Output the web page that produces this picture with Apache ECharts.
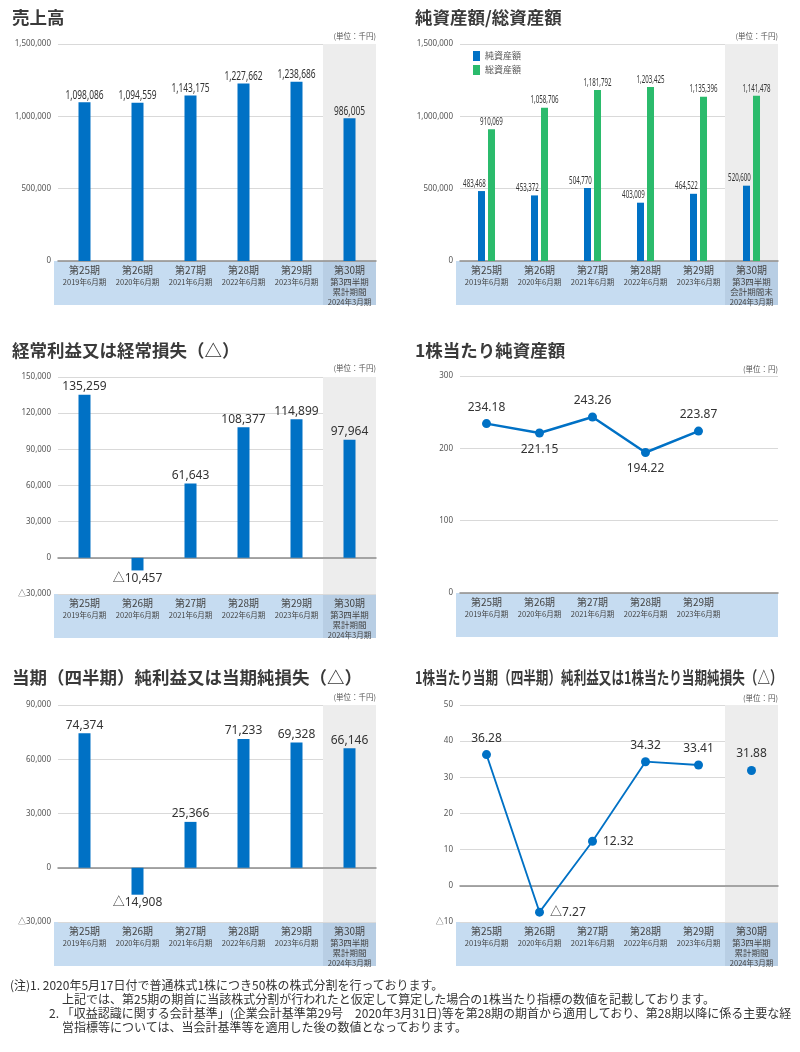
<!DOCTYPE html>
<html><head><meta charset="utf-8">
<script src="https://cdn.jsdelivr.net/npm/echarts@6/dist/echarts.min.js"></script>
<style>
html,body{margin:0;padding:0;background:#fff;}
#chart{position:absolute;left:0;top:0;width:800px;height:1052px;}
.note{position:absolute;font-family:"Noto Sans CJK JP",sans-serif;font-size:12px;color:#333;white-space:nowrap;line-height:14px;}
</style></head>
<body>
<div id="chart"></div>
<div class="note" style="left:10px;top:978px;">(注)1. 2020年5月17日付で普通株式1株につき50株の株式分割を行っております。</div>
<div class="note" style="left:62px;top:992px;">上記では、第25期の期首に当該株式分割が行われたと仮定して算定した場合の1株当たり指標の数値を記載しております。</div>
<div class="note" style="left:49px;top:1006px;">2. 「収益認識に関する会計基準」(企業会計基準第29号　2020年3月31日)等を第28期の期首から適用しており、第28期以降に係る主要な経</div>
<div class="note" style="left:62px;top:1020px;">営指標等については、当会計基準等を適用した後の数値となっております。</div>
<script>
// ---- data ----
const categories = ['第25期','第26期','第27期','第28期','第29期','第30期'];
const periods = ['2019年6月期','2020年6月期','2021年6月期','2022年6月期','2023年6月期'];
const q3Cumulative = ['第3四半期','累計期間','2024年3月期'];
const q3End = ['第3四半期','会計期間末','2024年3月期'];
const sales = [1098086,1094559,1143175,1227662,1238686,986005];
const netAssets = [483468,453372,504770,403009,464522,520600];
const totalAssets = [910069,1058706,1181792,1203425,1135396,1141478];
const ordinaryIncome = [135259,-10457,61643,108377,114899,97964];
const bps = [234.18,221.15,243.26,194.22,223.87];
const netIncome = [74374,-14908,25366,71233,69328,66146];
const eps = [36.28,-7.27,12.32,34.32,33.41];
const epsQ3 = 31.88;
const titles = ['売上高','純資産額/総資産額','経常利益又は経常損失（△）','1株当たり純資産額','当期（四半期）純利益又は当期純損失（△）','1株当たり当期（四半期）純利益又は1株当たり当期純損失（△）'];
const units = ['(単位：千円)','(単位：千円)','(単位：千円)','(単位：円)','(単位：千円)','(単位：円)'];
const yMin = [0,0,-30000,0,-30000,-10];
const yMax = [1500000,1500000,150000,300,90000,50];
const yInterval = [500000,500000,30000,100,30000,10];

// ---- layout / style ----
const L = [
  {left:58, top:44, width:318, height:217},
  {left:460, top:44, width:318, height:217},
  {left:58, top:377, width:318, height:217},
  {left:460, top:376, width:318, height:217},
  {left:58, top:705, width:318, height:217},
  {left:460, top:705, width:318, height:217}
];
const BLUE = '#0071c5', GREEN = '#2bbb6c';
const SANS = '"Noto Sans","Noto Sans CJK JP",sans-serif';
const CJK = '"Noto Sans CJK JP",sans-serif';
const fmtNum = v => (v < 0 ? '△' : '') + Math.abs(v).toLocaleString('en-US');
const fmtDec = v => (v < 0 ? '△' : '') + Math.abs(v).toFixed(2);

function catFormatter(extra, hideLast) {
  return function (val, idx) {
    if (idx < 5) return '{a|' + val + '}\n{b|' + periods[idx] + '}';
    if (hideLast) return '';
    return '{a|' + val + '}\n{c|' + extra[0] + '}\n{c|' + extra[1] + '}\n{b|' + extra[2] + '}';
  };
}
const rich = {
  a: {fontSize: 10, lineHeight: 14, color: '#444', fontFamily: CJK},
  b: {fontSize: 7.5, lineHeight: 10, color: '#444', fontFamily: CJK},
  c: {fontSize: 8.5, lineHeight: 10, color: '#444', fontFamily: CJK}
};
const grayArea = ['rgba(0,0,0,0)','rgba(0,0,0,0)','rgba(0,0,0,0)','rgba(0,0,0,0)','rgba(0,0,0,0)','#ededed'];

const grids = L.map(g => Object.assign({containLabel: false}, g));
const xAxes = L.map((g, i) => ({
  type: 'category', gridIndex: i, data: categories,
  axisLine: {onZero: true, lineStyle: {color: '#8c8c8c', width: 1.5}},
  axisTick: {show: false},
  axisLabel: {interval: 0, margin: 2, formatter: catFormatter(i === 1 ? q3End : q3Cumulative, i === 3), rich: rich, verticalAlign: 'top'},
  splitArea: {show: i !== 3, areaStyle: {color: grayArea}}
}));
const yAxes = L.map((g, i) => ({
  type: 'value', gridIndex: i, min: yMin[i], max: yMax[i], interval: yInterval[i],
  axisLine: {show: false}, axisTick: {show: false},
  axisLabel: {color: '#555', fontSize: 8, fontFamily: SANS, margin: 7, formatter: v => fmtNum(v)},
  splitLine: {lineStyle: {color: '#d9d9d9', width: 1.2}}
}));

function barData(arr) {
  return arr.map(v => ({value: v, label: {position: v < 0 ? 'bottom' : 'top'}}));
}
// condensed value labels drawn through the axis scales (custom series)
function narrowLabels(arr, axisIdx, dx, dy, fontSize, sx) {
  return {
    type: 'custom', xAxisIndex: axisIdx, yAxisIndex: axisIdx, z: 5, silent: true,
    data: arr.map((v, k) => [k, v]),
    renderItem: function (params, api) {
      const v = api.value(1);
      const p = api.coord([api.value(0), v]);
      return {type: 'text', x: p[0] + dx, y: p[1] + dy, scaleX: sx,
        style: {text: fmtNum(v), font: fontSize + 'px "Noto Sans", sans-serif', fill: '#333',
          textAlign: 'center', textVerticalAlign: 'bottom'}};
    }
  };
}

const series = [
  {type: 'bar', xAxisIndex: 0, yAxisIndex: 0, data: sales, barWidth: 12, itemStyle: {color: BLUE}},
  narrowLabels(sales, 0, 0, -1, 12, 0.7),
  {type: 'bar', name: '純資産額', xAxisIndex: 1, yAxisIndex: 1, data: netAssets, barWidth: 7, barGap: '43%', itemStyle: {color: BLUE}},
  {type: 'bar', name: '総資産額', xAxisIndex: 1, yAxisIndex: 1, data: totalAssets, barWidth: 7, barGap: '43%', itemStyle: {color: GREEN}},
  narrowLabels(netAssets, 1, -12, -2, 11, 0.56),
  narrowLabels(totalAssets, 1, 5, -2, 11, 0.56),
  {type: 'bar', xAxisIndex: 2, yAxisIndex: 2, data: barData(ordinaryIncome), barWidth: 12, itemStyle: {color: BLUE},
   label: {show: true, distance: 2, color: '#333', fontSize: 12, fontFamily: SANS, formatter: p => fmtNum(p.value)}},
  {type: 'line', xAxisIndex: 3, yAxisIndex: 3,
   data: bps.map((v, k) => ({value: v, label: {position: ['top','bottom','top','bottom','top'][k]}})),
   symbol: 'circle', symbolSize: 9, lineStyle: {color: BLUE, width: 2.5}, itemStyle: {color: BLUE},
   label: {show: true, distance: 6, color: '#333', fontSize: 12, fontFamily: SANS, formatter: p => fmtDec(p.value)}},
  {type: 'bar', xAxisIndex: 4, yAxisIndex: 4, data: barData(netIncome), barWidth: 12, itemStyle: {color: BLUE},
   label: {show: true, distance: 2, color: '#333', fontSize: 12, fontFamily: SANS, formatter: p => fmtNum(p.value)}},
  {type: 'line', xAxisIndex: 5, yAxisIndex: 5,
   data: eps.map((v, k) => ({value: v, label: {position: ['top','right','right','top','top'][k]}})),
   symbol: 'circle', symbolSize: 9, lineStyle: {color: BLUE, width: 1.8}, itemStyle: {color: BLUE},
   label: {show: true, distance: 6, color: '#333', fontSize: 12, fontFamily: SANS, formatter: p => fmtDec(p.value)}},
  {type: 'line', xAxisIndex: 5, yAxisIndex: 5,
   data: ['-','-','-','-','-', epsQ3],
   symbol: 'circle', symbolSize: 9, itemStyle: {color: BLUE}, lineStyle: {width: 0},
   label: {show: true, position: 'top', distance: 6, color: '#333', fontSize: 12, fontFamily: SANS, formatter: p => fmtDec(p.value)}}
];

const graphic = [];
const titlePos = [[12,17],[415,17],[12,350],[415,350],[12,677],[415,677]];
titles.forEach((t, i) => {
  graphic.push({type: 'text', x: titlePos[i][0], y: titlePos[i][1], scaleX: i === 5 ? 0.72 : 1, z: 10,
    style: {text: t, font: 'bold 17.5px "Noto Sans CJK JP", sans-serif', fill: '#3a3a3a', textVerticalAlign: 'middle'}});
});
const unitY = [36,36,368,369,697,698];
units.forEach((u, i) => {
  graphic.push({type: 'text', x: L[i].left + L[i].width, y: unitY[i], z: 10,
    style: {text: u, font: '7.5px "Noto Sans CJK JP", sans-serif', fill: '#555', textAlign: 'right', textVerticalAlign: 'middle'}});
});
L.forEach((g, i) => {
  const y0 = g.top + g.height;
  const x0 = g.left - 4, x1 = g.left + g.width;
  graphic.push({type: 'rect', z: -10, shape: {x: x0, y: y0, width: x1 - x0, height: 44}, style: {fill: '#c6dcf1'}});
  if (i !== 3) {
    const w = g.width / categories.length;
    graphic.push({type: 'rect', z: -9, shape: {x: g.left + 5 * w, y: y0, width: w, height: 44}, style: {fill: '#b8cee4'}});
  }
});

const chart = echarts.init(document.getElementById('chart'), null, {renderer: 'canvas'});
chart.setOption({
  animation: false,
  textStyle: {fontFamily: CJK},
  grid: grids, xAxis: xAxes, yAxis: yAxes, series: series, graphic: graphic,
  legend: {show: true, orient: 'vertical', left: 468, top: 46, itemWidth: 7, itemHeight: 10, itemGap: 4,
    data: ['純資産額','総資産額'], textStyle: {fontSize: 9, color: '#555', fontFamily: CJK}, icon: 'rect'}
});
</script>
</body></html>
